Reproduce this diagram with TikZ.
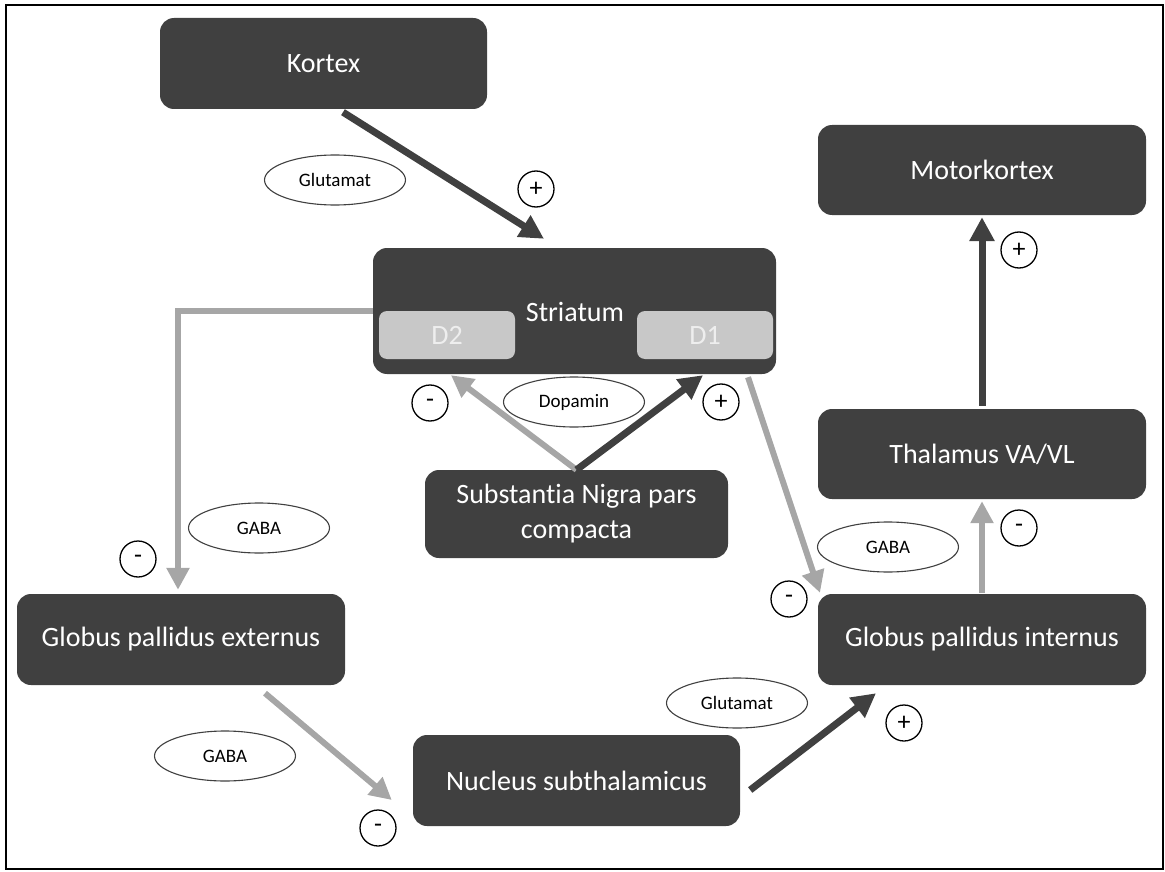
\documentclass[tikz,border=0pt]{standalone}
\usepackage{fontspec}
\setmainfont{Carlito}[Ligatures=NoCommon]
\usetikzlibrary{arrows.meta,shapes.geometric,calc}
\definecolor{boxdark}{HTML}{404040}
\definecolor{arrgray}{HTML}{A6A6A6}
\definecolor{dfill}{HTML}{C8C8C8}
\definecolor{dtext}{HTML}{EEEEEE}
\begin{document}
\begin{tikzpicture}[x=1pt,y=-1pt,
  region/.style={rectangle, fill=boxdark, rounded corners=14pt, text=white,
    font=\fontsize{28}{35}\selectfont, inner sep=0pt, align=center},
  receptor/.style={rectangle, fill=dfill, rounded corners=8pt, text=dtext,
    font=\fontsize{28}{34}\selectfont, minimum width=136pt, minimum height=48pt, inner sep=0pt},
  transm/.style={ellipse, draw=boxdark, line width=1.1pt, fill=white,
    minimum width=141pt, minimum height=50pt, inner sep=0pt, font=\fontsize{19}{22}\selectfont},
  sign/.style={circle, draw=black, line width=1.3pt, fill=white, minimum size=36pt,
    inner sep=0pt, font=\fontsize{26}{28}\selectfont},
  excit/.style={draw=boxdark, line width=7pt, -{Triangle[length=24pt,width=24pt]}},
  inhib/.style={draw=arrgray, line width=6pt, -{Triangle[length=22pt,width=22pt]}}]
\useasboundingbox (0,0) rectangle (1165,872);
\draw[line width=2pt] (6,5) rectangle (1163,869);

% regions
\node[region, minimum width=327pt, minimum height=91pt] (kortex) at (323.5,63.5) {Kortex};
\node[region, minimum width=403pt, minimum height=126pt] (striatum) at (574.5,311) {};
\node[receptor] (d2) at (447,335) {D2};
\node[receptor] (d1) at (705,335) {D1};
\node[text=white, font=\fontsize{28}{34}\selectfont, inner sep=0pt] (strlabel) at (575,312) {Striatum};
\node[region, minimum width=303pt, minimum height=88pt] (snpc) at (576.5,514) {Substantia Nigra pars\\compacta};
\node[region, minimum width=328pt, minimum height=90pt] (motor) at (982,170) {Motorkortex};
\node[region, minimum width=328pt, minimum height=90pt] (thal) at (982,454) {Thalamus VA/VL};
\node[region, minimum width=328pt, minimum height=91pt] (gpi) at (982,639.5) {Globus pallidus internus};
\node[region, minimum width=328pt, minimum height=91pt] (gpe) at (181,639.5) {Globus pallidus externus};
\node[region, minimum width=327pt, minimum height=91pt] (nst) at (576.5,780.5) {Nucleus subthalamicus};

% connectors
\draw[excit] ([xshift=19.5pt,yshift=-3pt]kortex.south) -- ([xshift=-30.5pt,yshift=9pt]striatum.north);
\draw[inhib] (striatum.west) -| ([xshift=-3pt,yshift=4pt]gpe.north);
\draw[inhib] (snpc.north) -- ([xshift=-123.5pt,yshift=-1pt]striatum.south);
\draw[excit] (snpc.north) -- ([xshift=128.5pt,yshift=-1pt]striatum.south);
\draw[inhib] ([xshift=173.5pt,yshift=-3pt]striatum.south) -- ([xshift=-162pt,yshift=1pt]gpi.north);
\draw[inhib] ([xshift=84pt,yshift=-8pt]gpe.south) -- ([xshift=-21pt,yshift=-19.5pt]nst.west);
\draw[excit] ([xshift=10pt,yshift=-9.5pt]nst.east) -- ([xshift=-106pt,yshift=-8pt]gpi.south);
\draw[inhib] ([yshift=1pt]gpi.north) -- ([yshift=-2pt]thal.south);
\draw[excit] ([yshift=3pt]thal.north) -- ([yshift=-2pt]motor.south);

% transmitters
\node[transm] (glu1) at (335,180) {Glutamat};
\node[transm] (dopa) at (574,402) {Dopamin};
\node[transm] (gaba1) at (259,528) {GABA};
\node[transm] (gaba2) at (225,756) {GABA};
\node[transm] (gaba3) at (888,547) {GABA};
\node[transm] (glu2) at (737,703) {Glutamat};

% signs
\node[sign] (p1) at (536,189) {+};
\node[sign] (m1) at (430,403) {-};
\node[sign] (p2) at (721,402) {+};
\node[sign] (p3) at (1019,250) {+};
\node[sign] (m2) at (138,559) {-};
\node[sign] (m3) at (378,828) {-};
\node[sign] (m4) at (789,599) {-};
\node[sign] (m5) at (1019,528) {-};
\node[sign] (p4) at (904,723) {+};
\end{tikzpicture}
\end{document}
